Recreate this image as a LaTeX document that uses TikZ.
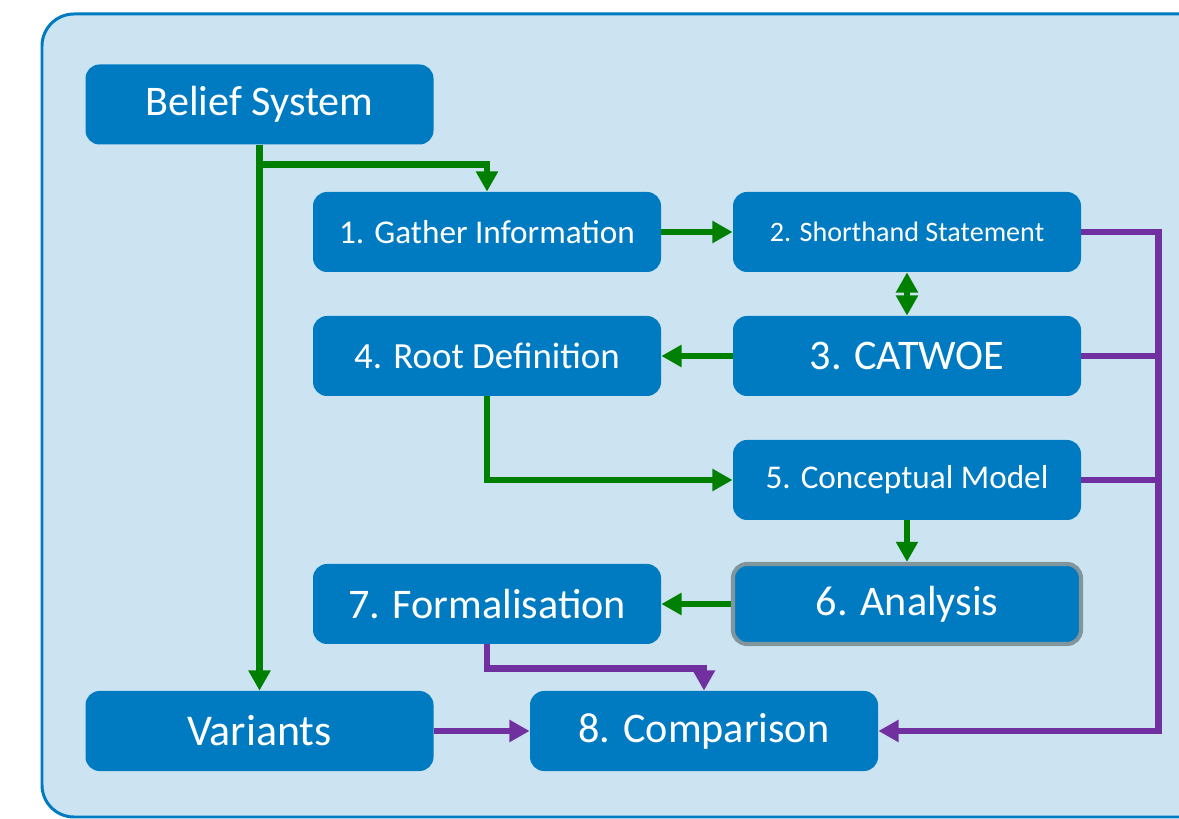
\documentclass[tikz,border=0pt]{standalone}
\usepackage{fontspec}
\setmainfont{Carlito}
\usetikzlibrary{arrows.meta,positioning}
\definecolor{boxblue}{RGB}{0,123,194}
\definecolor{paleblue}{RGB}{204,228,241}
\definecolor{flowgreen}{RGB}{0,128,0}
\definecolor{feedpurple}{RGB}{112,48,160}
\definecolor{rimgray}{RGB}{128,150,156}
\tikzstyle{stage}=[fill=boxblue, text=white, rounded corners=0.28cm,
  minimum width=6.96cm, minimum height=1.6cm, inner sep=0pt]
\tikzstyle{bigtext}=[font=\fontsize{24}{29}\selectfont]
\tikzstyle{midtext}=[font=\fontsize{18.9}{23}\selectfont]
\tikzstyle{smalltext}=[font=\fontsize{16}{19}\selectfont]
\tikzstyle{flow}=[flowgreen, line width=3.9pt]
\tikzstyle{feed}=[feedpurple, line width=3.9pt]
\tikzstyle{frame}=[draw=boxblue, fill=paleblue, line width=1.7pt,
  rounded corners=0.64cm]

\begin{document}
\begin{tikzpicture}[>={Triangle[width=12pt,length=11.5pt]}, on grid,
    node distance=2.48cm and 8.4cm]
  \useasboundingbox (0,0) rectangle (23.58,-16.38);
  \begin{scope}
    \clip (0,0) rectangle (23.58,-16.38);
    \draw[frame] (0.84,-0.28) rectangle (25,-16.34);
  \end{scope}

  \node[stage, bigtext]            (belief)     at (5.19,-2.09) {Belief System};
  \node[stage, midtext]            (gather)     at (9.74,-4.64) {1. Gather Information};
  \node[stage, smalltext, right=of gather] (shorthand) {2. Shorthand Statement};
  \node[stage, bigtext, below=of shorthand] (catwoe) {3. CATWOE};
  \node[stage, midtext, left=of catwoe, font=\fontsize{21}{25}\selectfont] (rootdef) {4. Root Definition};
  \node[stage, midtext, below=of catwoe]   (concept) {5. Conceptual Model};
  \node[stage, bigtext, below=of concept, draw=rimgray, line width=2.3pt] (analysis) {6. Analysis};
  \node[stage, bigtext, left=of analysis]  (formal) {7. Formalisation};
  \node[stage, bigtext, font=\fontsize{25}{30}\selectfont] (variants) at (5.19,-14.62) {Variants};
  \node[stage, bigtext]            (comparison) at (14.08,-14.62) {8. Comparison};

  \coordinate (split) at ([yshift=-0.4cm]belief.south);
  \coordinate (fjoin) at ([yshift=-0.48cm]formal.south);
  \coordinate (bus)   at ([xshift=1.54cm]shorthand.east);

  \draw[flow, ->] (belief) -- (variants);
  \draw[flow, ->] (split) -| (gather);
  \draw[flow, ->] (gather) -- (shorthand);
  \draw[flow, <->] (shorthand) -- (catwoe);
  \draw[flow, ->] (catwoe) -- (rootdef);
  \draw[flow, ->] (rootdef) |- (concept);
  \draw[flow, ->] (concept) -- (analysis);
  \draw[flow, ->] (analysis) -- (formal);

  \draw[feed, ->] (formal) -- (fjoin) -| (comparison);
  \draw[feed, ->] (variants) -- (comparison);
  \draw[feed, ->] (shorthand) -- (bus) |- (comparison);
  \draw[feed] (catwoe) -- (catwoe -| bus);
  \draw[feed] (concept) -- (concept -| bus);
\end{tikzpicture}
\end{document}
